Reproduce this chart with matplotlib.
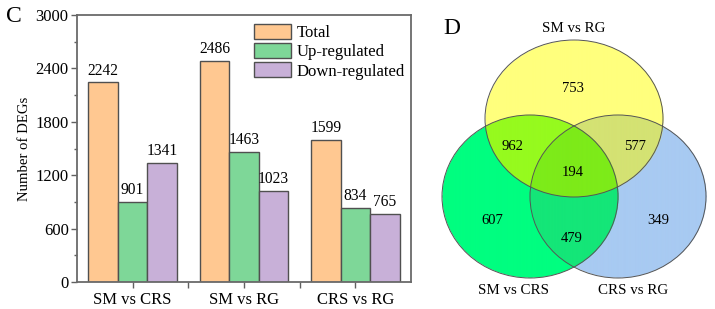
import numpy as np
import matplotlib
matplotlib.use("Agg")
import matplotlib.pyplot as plt
from matplotlib.patches import Ellipse
from matplotlib.ticker import MultipleLocator, FixedLocator

plt.rcParams['font.family'] = ['Liberation Serif', 'DejaVu Serif']

# ---- data ----
groups = ["SM vs CRS", "SM vs RG", "CRS vs RG"]
series_names = ["Total", "Up-regulated", "Down-regulated"]
total = [2242, 2486, 1599]
up = [901, 1463, 834]
down = [1341, 1023, 765]
bar_colors = ["#FFC891", "#7ED798", "#C8B0D8"]

venn_sets = ["SM vs RG", "SM vs CRS", "CRS vs RG"]
venn_counts = {"Y": 753, "G": 607, "B": 349, "YG": 962, "YB": 577, "GB": 479, "YGB": 194}

fig = plt.figure(figsize=(7.15, 3.09), dpi=100)

# ---- panel C: bar chart ----
ax = fig.add_axes([77/715, 27/309, 334/715, 267/309])
x = np.arange(len(groups))
w = 0.265
for i, (vals, col, name) in enumerate(zip([total, up, down], bar_colors, series_names)):
    bars = ax.bar(x + (i - 1) * w, vals, width=w, color=col, edgecolor="#505050",
                  linewidth=1.0, label=name)
    for b, v in zip(bars, vals):
        ax.text(b.get_x() + b.get_width() / 2, v + 40, str(v), ha="center", va="bottom",
                fontsize=11.2)
ax.set_xlim(-0.5, 2.5)
ax.set_ylim(0, 3000)
ax.yaxis.set_major_locator(MultipleLocator(600))
ax.yaxis.set_minor_locator(MultipleLocator(300))
ax.set_xticks(x)
ax.set_xticklabels(groups, fontsize=12)
ax.xaxis.set_minor_locator(FixedLocator([0.5, 1.5]))
ax.tick_params(axis="y", labelsize=12, pad=2)
ax.tick_params(which="major", direction="out", length=4, width=1, color="#606060")
ax.tick_params(which="minor", direction="out", length=2.5, width=1, color="#606060")
ax.tick_params(axis="x", which="minor", length=4)
for s in ax.spines.values():
    s.set_color("#6a6a6a")
    s.set_linewidth(1.3)
ax.set_ylabel("Number of DEGs", fontsize=10.6, labelpad=3)
leg = ax.legend(loc="upper left", bbox_to_anchor=(0.531, 0.966), frameon=False,
                fontsize=12, handlelength=2.2, handleheight=1.0, labelspacing=0.12,
                handletextpad=0.35, borderpad=0, borderaxespad=0)
fig.text(6/715, 1 - 17/309, "C", fontsize=17, va="center", ha="left")

# ---- panel D: Venn diagram ----
vx = fig.add_axes([430/715, 0, 285/715, 1])
vx.set_xlim(430, 715)
vx.set_ylim(309, 0)
vx.axis("off")

ell = {
    "Y": (574, 118.5, 89, 78.5),
    "G": (530, 196.5, 88, 81.5),
    "B": (618, 196.5, 88, 81.5),
}
region_colors = {
    "Y": (255, 255, 125), "G": (0, 254, 128), "B": (168, 202, 242),
    "YG": (150, 250, 30), "YB": (212, 226, 115), "GB": (20, 230, 120),
    "YGB": (125, 235, 25),
}
ss = 4
xs = np.linspace(430, 715, 285 * ss)
ys = np.linspace(0, 309, 309 * ss)
X, Y = np.meshgrid(xs, ys)
masks = {k: ((X - cx) / rx) ** 2 + ((Y - cy) / ry) ** 2 <= 1 for k, (cx, cy, rx, ry) in ell.items()}
img = np.ones((len(ys), len(xs), 4))
img[..., 3] = 0
for key, col in region_colors.items():
    m = np.ones_like(X, dtype=bool)
    for k in "YGB":
        m &= masks[k] if k in key else ~masks[k]
    img[m, :3] = np.array(col) / 255
    img[m, 3] = 1
vx.imshow(img, extent=(430, 715, 309, 0), interpolation="antialiased", zorder=1)
for k, (cx, cy, rx, ry) in ell.items():
    vx.add_patch(Ellipse((cx, cy), 2 * rx, 2 * ry, fill=False, edgecolor="#555555",
                         linewidth=0.7, zorder=2))
vx.set_aspect("auto")

pos = {"Y": (573, 89), "YG": (512, 147), "YB": (635, 147), "YGB": (573, 173),
       "G": (492, 220), "GB": (572, 238), "B": (658, 220)}
for key, (px, py) in pos.items():
    vx.text(px, py, str(venn_counts[key]), ha="center", va="center", fontsize=10.5, zorder=3)
vx.text(574, 29, venn_sets[0], ha="center", va="center", fontsize=10.8)
vx.text(513, 290, venn_sets[1], ha="center", va="center", fontsize=10.8)
vx.text(633, 290, venn_sets[2], ha="center", va="center", fontsize=10.8)
vx.text(443, 28, "D", fontsize=17, ha="left", va="center")

fig.savefig("out.png", dpi=100)
